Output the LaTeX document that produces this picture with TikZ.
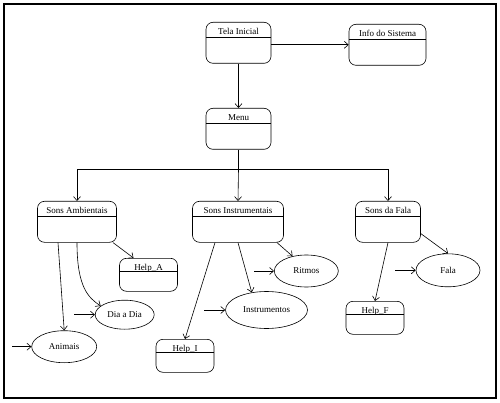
\documentclass[tikz,border=0pt]{standalone}
\usepackage{fontspec}
\setmainfont{Liberation Serif}
\usetikzlibrary{arrows.meta,shapes.geometric}

\tikzset{
  estado/.style={draw, rounded corners=7pt, minimum width=#1, inner xsep=2pt, inner ysep=3.5pt,
    text height=9pt, text depth=25pt,
    path picture={\draw ([yshift=-15pt]path picture bounding box.north west) -- ([yshift=-15pt]path picture bounding box.north east);}},
  ajuda/.style={estado=#1, text depth=18pt, inner ysep=3pt,
    path picture={\draw ([yshift=-13pt]path picture bounding box.north west) -- ([yshift=-13pt]path picture bounding box.north east);}},
  acao/.style={draw, ellipse, inner sep=0pt},
}

\begin{document}
\begin{tikzpicture}[x=1pt,y=-1pt,>={Straight Barb[length=4pt,width=7pt]},line width=0.6pt,font=\fontsize{9}{10}\selectfont]
  \useasboundingbox (0,0) rectangle (500,403);
  \draw[line width=1.6pt] (4,4) rectangle (496,398);

  % estados
  \node[estado=65pt, anchor=north] (tela) at (238.5,22) {Tela Inicial};
  \node[estado=77pt, anchor=north] (info) at (387.5,24) {Info do Sistema};
  \node[estado=65pt, anchor=north] (menu) at (238.5,108) {Menu};
  \node[estado=79pt, anchor=north] (sa) at (77,201) {Sons Ambientais};
  \node[estado=91pt, anchor=north] (si) at (238,201) {Sons Instrumentais};
  \node[estado=65pt, anchor=north] (sf) at (388,201) {Sons da Fala};
  \node[ajuda=58pt, anchor=north] (helpa) at (148.5,258) {Help\_A};
  \node[ajuda=58pt, anchor=north] (helpi) at (185,339) {Help\_I};
  \node[ajuda=58pt, anchor=north] (helpf) at (375,301) {Help\_F};

  % acoes
  \node[acao, minimum width=64pt, minimum height=32pt] (ritmos) at (306.3,271) {Ritmos};
  \node[acao, minimum width=82pt, minimum height=37pt] (instr) at (266.5,310) {Instrumentos};
  \node[acao, minimum width=64pt, minimum height=33pt] (fala) at (448,270.3) {Fala};
  \node[acao, minimum width=59pt, minimum height=29pt] (dia) at (124.7,314.7) {Dia a Dia};
  \node[acao, minimum width=65pt, minimum height=32pt] (animais) at (64.2,346.7) {Animais};

  \coordinate (bus) at (238.5,169);
  \coordinate (iniR) at (254,271);
  \coordinate (iniI) at (204,310);
  \coordinate (iniF) at (395,270.3);
  \coordinate (iniD) at (74,314.7);
  \coordinate (iniA) at (12,346.7);

  \draw[->] (tela.east |- info.west) -- (info.west);
  \draw[->] (tela) -- (menu);
  \draw (menu.south) -- (bus);
  \draw[->] (bus) -| (sa.north);
  \draw[->] (bus) -- (si.north);
  \draw[->] (bus) -| (sf.north);

  \draw[->] ([xshift=36pt]sa.south) -- ([xshift=-15pt]helpa.north);
  \draw[->] ([xshift=-19pt]sa.south) -- (animais.north);
  \draw[->] (sa.south) .. controls ++(0,45) and ++(-12,-8) .. (dia.160);
  \draw[->] ([xshift=39pt]si.south) -- (ritmos.133);
  \draw[->] (si.south) -- (instr.130);
  \draw[->] ([xshift=-23pt]si.south) -- (helpi.north);
  \draw[->] ([yshift=9pt]sf.south east) -- (fala.north);
  \draw[->] (sf.south) -- (helpf.north);

  \draw[->] (iniR) -- (ritmos);
  \draw[->] (iniI) -- (instr);
  \draw[->] (iniF) -- (fala);
  \draw[->] (iniD) -- (dia);
  \draw[->] (iniA) -- (animais);
\end{tikzpicture}
\end{document}
